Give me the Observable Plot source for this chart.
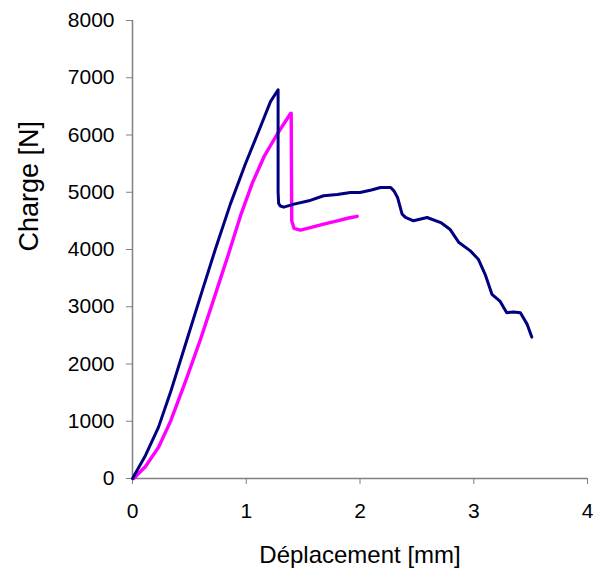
<!DOCTYPE html>
<html>
<head>
<meta charset="utf-8">
<script src="https://cdn.jsdelivr.net/npm/d3@7"></script>
<script src="https://cdn.jsdelivr.net/npm/@observablehq/plot@0.6"></script>
<style>
  body { margin: 0; background: #fff; }
  #chart { width: 593px; height: 574px; }
  #chart svg g[aria-label$="tick label"] text { font-size: 21px; }
</style>
</head>
<body>
<div id="chart"></div>
<script>
// Series 1 (navy): displacement [mm], load [N]
const navyX = [0, 0.114, 0.228, 0.334, 0.466, 0.598, 0.729, 0.861, 0.993, 1.125, 1.213, 1.28, 1.28, 1.285, 1.30, 1.33, 1.42, 1.55, 1.68, 1.80, 1.916, 2.0, 2.10, 2.18, 2.27, 2.30, 2.33, 2.37, 2.40, 2.47, 2.59, 2.71, 2.79, 2.87, 2.97, 3.04, 3.10, 3.16, 3.23, 3.29, 3.35, 3.41, 3.47, 3.51];
const navyY = [0, 403, 893, 1505, 2346, 3186, 4009, 4797, 5497, 6145, 6582, 6790, 5000, 4800, 4760, 4740, 4793, 4850, 4939, 4960, 4997, 4997, 5040, 5084, 5084, 5020, 4909, 4618, 4560, 4501, 4559, 4471, 4355, 4121, 3976, 3830, 3567, 3217, 3100, 2895, 2910, 2895, 2692, 2470];

// Series 2 (magenta)
const magX = [0.01, 0.114, 0.228, 0.334, 0.466, 0.598, 0.729, 0.844, 0.949, 1.054, 1.160, 1.274, 1.388, 1.395, 1.40, 1.42, 1.476, 1.58, 1.68, 1.80, 1.90, 1.975];
const magY = [0, 210, 543, 998, 1698, 2433, 3221, 3921, 4586, 5164, 5637, 6022, 6372, 6380, 4500, 4370, 4340, 4390, 4443, 4500, 4550, 4580];

const xTicks = [0, 1, 2, 3, 4];
const yTicks = [0, 1000, 2000, 3000, 4000, 5000, 6000, 7000, 8000];

const navy = navyX.map((x, i) => ({x, y: navyY[i]}));
const mag = magX.map((x, i) => ({x, y: magY[i]}));

const fmt = d => String(d);

const chart = Plot.plot({
  width: 593,
  height: 574,
  marginLeft: 132,
  marginTop: 20,
  marginRight: 6,
  marginBottom: 96,
  style: { fontFamily: "'Liberation Sans', Arial, sans-serif", fontSize: "21px", color: "#000", background: "#fff" },
  x: { domain: [0, 4], label: null },
  y: { domain: [0, 8000], label: null },
  marks: [
    Plot.axisX({ ticks: xTicks, tickFormat: fmt, tickSize: 6, tickPadding: 19, stroke: "#808080", fill: "#000", label: null }),
    Plot.axisY({ ticks: yTicks, tickFormat: fmt, tickSize: 6, tickPadding: 12, stroke: "#808080", fill: "#000", label: null }),
    Plot.ruleY([0], { stroke: "#808080", strokeWidth: 1.5 }),
    Plot.ruleX([0], { stroke: "#808080", strokeWidth: 1.5 }),
    Plot.line(mag, { x: "x", y: "y", stroke: "#FF00FF", strokeWidth: 3.4, strokeLinejoin: "round" }),
    Plot.line(navy, { x: "x", y: "y", stroke: "#000080", strokeWidth: 3, strokeLinejoin: "round" }),
    Plot.text(["Déplacement [mm]"], { frameAnchor: "bottom", dy: 77, lineAnchor: "middle", fontSize: 24, fill: "#000" }),
    Plot.text(["Charge [N]"], { frameAnchor: "left", dx: -103, dy: 2, rotate: -90, fontSize: 27, fill: "#000" })
  ]
});
document.getElementById("chart").appendChild(chart);
</script>
</body>
</html>
